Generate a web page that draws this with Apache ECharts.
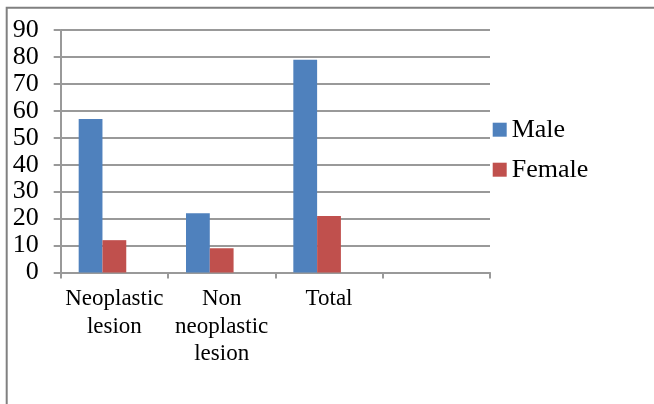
<!DOCTYPE html>
<html>
<head>
<meta charset="utf-8">
<script src="https://cdn.jsdelivr.net/npm/echarts@6/dist/echarts.min.js"></script>
<style>
html,body{margin:0;padding:0;background:#fff;}
#chart{width:654px;height:404px;}
</style>
</head>
<body>
<div id="chart"></div>
<script>
const categories = ['Neoplastic\nlesion', 'Non\nneoplastic\nlesion', 'Total', ''];
const maleValues = [57, 22, 79, null];
const femaleValues = [12, 9, 21, null];
const emptyValues = [null, null, null, null];
const yTicks = [0, 10, 20, 30, 40, 50, 60, 70, 80, 90];

const chart = echarts.init(document.getElementById('chart'));
const font = '"Liberation Serif", "Times New Roman", serif';
chart.setOption({
  animation: false,
  backgroundColor: '#fff',
  graphic: [{
    type: 'rect',
    shape: { x: 6.7, y: 7.7, width: 900, height: 900 },
    style: { fill: 'none', stroke: '#808080', lineWidth: 2 },
    silent: true
  }],
  grid: { left: 60.7, right: 164, top: 30, bottom: 131.5, containLabel: false },
  legend: {
    orient: 'vertical',
    left: 492.7,
    top: 116.7,
    padding: 0,
    itemWidth: 14,
    itemHeight: 14,
    itemGap: 14,
    icon: 'rect',
    data: ['Male', 'Female'],
    textStyle: { fontFamily: font, fontSize: 26, lineHeight: 26, color: '#000' }
  },
  xAxis: {
    type: 'category',
    data: categories,
    axisLine: { lineStyle: { color: '#999', width: 2 } },
    axisTick: { show: true, alignWithLabel: false, length: 6, lineStyle: { color: '#999', width: 2 } },
    axisLabel: { fontFamily: font, fontSize: 23, lineHeight: 27.5, color: '#000', margin: 13, interval: 0 },
    splitLine: { show: false }
  },
  yAxis: {
    type: 'value',
    min: 0,
    max: 90,
    interval: 10,
    axisLine: { show: true, lineStyle: { color: '#999', width: 2 } },
    axisTick: { show: true, length: 7, lineStyle: { color: '#999', width: 2 } },
    axisLabel: { fontFamily: font, fontSize: 26, color: '#000', margin: 22,
      formatter: v => yTicks.includes(v) ? String(v) : '' },
    splitLine: { lineStyle: { color: '#999', width: 2 } }
  },
  series: [
    { name: 'Male', type: 'bar', data: maleValues, barGap: '0%', barCategoryGap: '33.5%',
      itemStyle: { color: '#4F81BD' } },
    { name: 'Female', type: 'bar', data: femaleValues, barGap: '0%', barCategoryGap: '33.5%',
      itemStyle: { color: '#C0504D' } },
    { name: 'empty', type: 'bar', data: emptyValues, barGap: '0%', barCategoryGap: '33.5%',
      itemStyle: { color: '#9BBB59' } }
  ]
});
</script>
</body>
</html>
